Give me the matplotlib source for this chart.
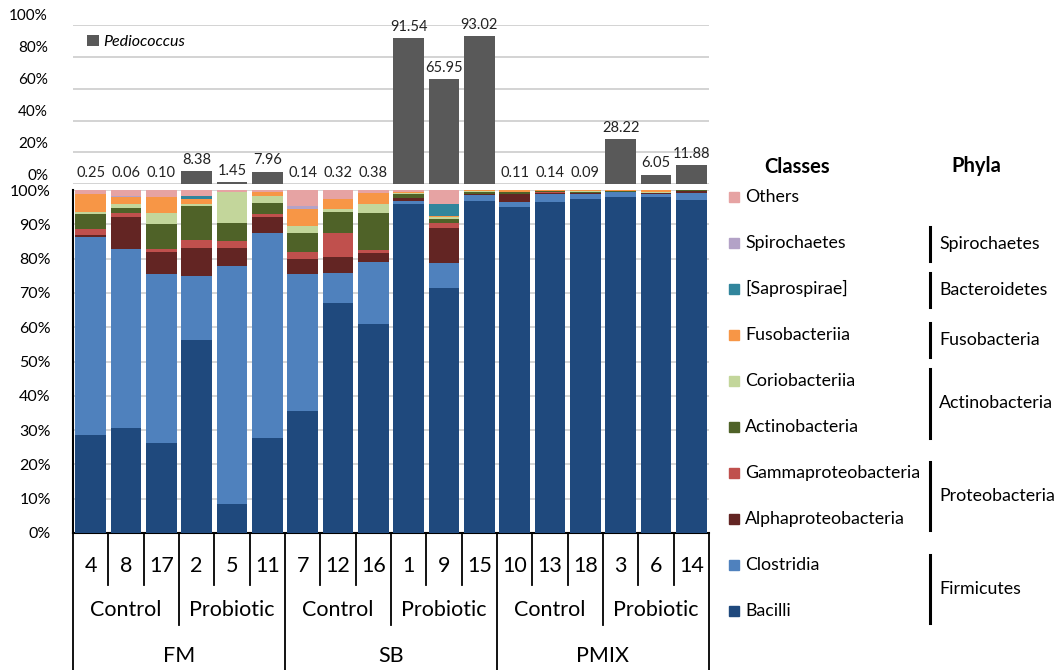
import matplotlib
matplotlib.use('Agg')
import matplotlib.pyplot as plt
import matplotlib.transforms as mtransforms
from matplotlib.patches import Rectangle
from matplotlib.lines import Line2D
import numpy as np

plt.rcParams['font.family'] = ['Lato', 'DejaVu Sans']

# sample ids, treatment groups, diets
samples = ['4', '8', '17', '2', '5', '11', '7', '12', '16',
           '1', '9', '15', '10', '13', '18', '3', '6', '14']
treatments = ['Control', 'Probiotic'] * 3
diets = ['FM', 'SB', 'PMIX']

# Pediococcus relative abundance (%)
pedio = [0.25, 0.06, 0.10, 8.38, 1.45, 7.96, 0.14, 0.32, 0.38,
         91.54, 65.95, 93.02, 0.11, 0.14, 0.09, 28.22, 6.05, 11.88]

# class abundances (%), bottom to top
bacilli = [28.6, 30.5, 26.3, 56.3, 8.5, 27.6, 35.7, 67.0, 60.9,
           95.9, 71.5, 96.9, 95.0, 96.4, 97.3, 97.9, 98.1, 97.1]
clostridia = [57.7, 52.3, 49.2, 18.6, 69.3, 59.8, 39.7, 8.9, 18.0,
              1.0, 7.3, 1.6, 1.4, 2.3, 1.5, 1.4, 0.7, 1.9]
alphaproteo = [0.6, 9.4, 6.5, 8.1, 5.2, 4.8, 4.5, 4.7, 2.8,
               0.9, 10.2, 0.3, 2.3, 0.5, 0.3, 0.2, 0.2, 0.6]
gammaproteo = [1.6, 1.0, 0.8, 2.4, 2.1, 0.7, 2.1, 6.8, 0.8,
               0.0, 1.3, 0.1, 0.1, 0.1, 0.1, 0.0, 0.1, 0.1]
actinobact = [4.4, 1.6, 7.3, 10.0, 5.4, 3.4, 5.4, 6.3, 10.7,
              1.0, 1.2, 0.6, 0.5, 0.4, 0.2, 0.1, 0.1, 0.2]
corioba = [0.6, 1.1, 3.1, 0.5, 8.8, 2.0, 2.2, 0.9, 2.6,
           0.2, 0.7, 0.1, 0.2, 0.1, 0.2, 0.0, 0.2, 0.0]
fusoba = [5.2, 2.0, 4.9, 1.5, 0.0, 1.2, 5.0, 2.7, 3.2,
          0.5, 0.3, 0.3, 0.4, 0.2, 0.4, 0.3, 0.5, 0.1]
saprospirae = [0.0, 0.0, 0.0, 0.9, 0.0, 0.0, 0.0, 0.0, 0.0,
               0.0, 3.4, 0.0, 0.0, 0.0, 0.0, 0.0, 0.0, 0.0]
spirochaetes = [0.0, 0.3, 0.0, 0.0, 0.0, 0.0, 0.8, 0.0, 0.0,
                0.0, 0.0, 0.0, 0.0, 0.0, 0.0, 0.0, 0.0, 0.0]
others = [1.3, 1.8, 1.9, 1.7, 0.7, 0.5, 4.6, 2.7, 1.0,
          0.5, 4.1, 0.1, 0.1, 0.0, 0.0, 0.1, 0.1, 0.0]

class_names = ['Bacilli', 'Clostridia', 'Alphaproteobacteria', 'Gammaproteobacteria',
               'Actinobacteria', 'Coriobacteriia', 'Fusobacteriia', '[Saprospirae]',
               'Spirochaetes', 'Others']
class_vals = [bacilli, clostridia, alphaproteo, gammaproteo, actinobact,
              corioba, fusoba, saprospirae, spirochaetes, others]
class_colors = ['#1F497D', '#4F81BD', '#632523', '#C0504D', '#4F6228',
                '#C3D69B', '#F79646', '#31859C', '#B3A2C7', '#E6A3A3']

phyla = ['Spirochaetes', 'Bacteroidetes', 'Fusobacteria', 'Actinobacteria',
         'Proteobacteria', 'Firmicutes']

W, H = 1057, 670
fig = plt.figure(figsize=(W / 100, H / 100), dpi=100)


def fx(px):
    return px / W


def fy(py):
    return 1 - py / H


x = np.arange(len(samples))
left, right = 73, 709
bw = 0.86

# ---- top panel: Pediococcus
ax1 = fig.add_axes([fx(left), fy(184.3), fx(right - left), (184.3 - 25) / H])
ax1.bar(x, pedio, width=bw, color='#595959', label='Pediococcus', zorder=3)
for xi, v in zip(x, pedio):
    ax1.annotate('%.2f' % v, (xi, v), xytext=(0, 3), textcoords='offset points',
                 ha='center', va='bottom', fontsize=10.5, color='#222222')
ax1.set_xlim(-0.5, len(samples) - 0.5)
ax1.set_ylim(0, 100)
ax1.set_yticks(range(0, 101, 20))
ax1.set_yticklabels(['%d%%' % t for t in range(0, 101, 20)], fontsize=11)
ax1.yaxis.grid(True, color='#D0D0D0', lw=1.3, zorder=0)
ax1.set_xticks([])
ax1.tick_params(axis='y', length=0, pad=18)
for s in ax1.spines.values():
    s.set_visible(False)
off = mtransforms.ScaledTranslation(0, 10 / 100, fig.dpi_scale_trans)
for lab in ax1.get_yticklabels():
    lab.set_transform(lab.get_transform() + off)
ax1.legend(loc='upper left', bbox_to_anchor=(0.0, 1.03), frameon=False,
           prop={'style': 'italic', 'size': 11.5}, handlelength=0.7,
           handleheight=0.7, handletextpad=0.3)

# ---- bottom panel: stacked classes
ax2 = fig.add_axes([fx(left), fy(533), fx(right - left), 343 / H])
bottom = np.zeros(len(samples))
for name, vals, col in zip(class_names, class_vals, class_colors):
    ax2.bar(x, vals, width=bw, bottom=bottom, color=col, zorder=3)
    bottom += np.array(vals)
ax2.set_xlim(-0.5, len(samples) - 0.5)
ax2.set_ylim(0, 100)
ax2.set_yticks(range(0, 101, 10))
ax2.set_yticklabels(['%d%%' % t for t in range(0, 101, 10)], fontsize=11.5)
ax2.yaxis.grid(True, color='#D0D0D0', lw=1.2, zorder=0)
ax2.set_xticks([])
ax2.tick_params(axis='y', length=0, pad=16)
for k in ['top', 'right']:
    ax2.spines[k].set_visible(False)
ax2.spines['left'].set_linewidth(1.5)
ax2.spines['bottom'].set_linewidth(1.5)

# ---- category table below
ax3 = fig.add_axes([fx(left), 0, fx(right - left), fy(533)])
ax3.set_xlim(-0.5, len(samples) - 0.5)
ax3.set_ylim(137, 0)
ax3.axis('off')
for i in range(len(samples) + 1):
    xb = i - 0.5
    if i % 6 == 0:
        y2 = 137
    elif i % 3 == 0:
        y2 = 92
    else:
        y2 = 52
    ax3.plot([xb, xb], [0, y2], color='black', lw=1.3, clip_on=False)
for xi, s in zip(x, samples):
    ax3.text(xi, 33, s, ha='center', va='center', fontsize=15.5)
for j, t in enumerate(treatments):
    ax3.text(j * 3 + 1, 77, t, ha='center', va='center', fontsize=15.5)
for j, d in enumerate(diets):
    ax3.text(j * 6 + 2.5, 123, d, ha='center', va='center', fontsize=15.5)

# ---- right-side legend: classes and phyla
fig.text(fx(797), fy(167), 'Classes', ha='center', va='center',
         fontsize=14.5, fontweight='bold')
fig.text(fx(976), fy(166), 'Phyla', ha='center', va='center',
         fontsize=14.5, fontweight='bold')
legend_order = class_names[::-1]
legend_cols = class_colors[::-1]
for k, (name, col) in enumerate(zip(legend_order, legend_cols)):
    yc = 196.7 + k * 46.05
    fig.patches.append(Rectangle((fx(729), fy(yc + 5)), fx(10), 10 / H,
                                 transform=fig.transFigure, color=col))
    fig.text(fx(745), fy(yc), name, ha='left', va='center', fontsize=12.8)

# phyla brackets: (top px, bottom px)
phyla_spans = [(227, 261), (273, 307), (323, 357), (369, 438), (462, 530), (555, 623)]
for name, (y1, y2) in zip(phyla, phyla_spans):
    fig.add_artist(Line2D([fx(930), fx(930)], [fy(y1), fy(y2)], color='black', lw=2.2))
    fig.text(fx(939), fy((y1 + y2) / 2), name, ha='left', va='center', fontsize=12.8)

fig.savefig('out.png', dpi=100)
